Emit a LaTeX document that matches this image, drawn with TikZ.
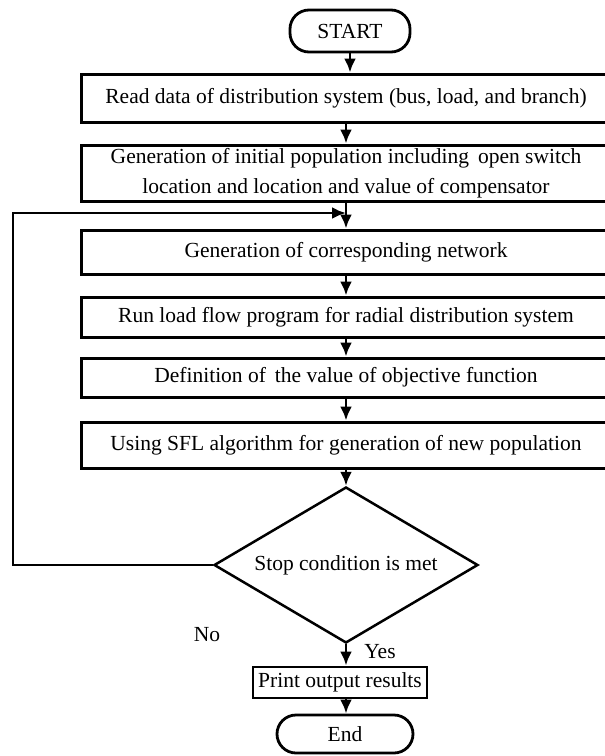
\documentclass[tikz,border=0pt]{standalone}
\usepackage{fontspec}
\setmainfont{Liberation Serif}
\usetikzlibrary{shapes.geometric,arrows.meta}
\begin{document}
\begin{tikzpicture}[x=1pt,y=-1pt,
    font=\fontsize{21.5}{30}\selectfont,
    box/.style={draw, line width=3pt, minimum width=530pt, align=center, inner sep=0pt},
    term/.style={draw, line width=2.8pt, rounded corners=19pt, inner sep=0pt},
    flow/.style={line width=2.8pt, -{Latex[length=14pt,width=12pt]}}]
    % Page size
    \useasboundingbox (0,0) rectangle (605,756);
    % Terminals
    \node[term, minimum width=120pt, minimum height=42pt] (start) at (350,31) {START};
    \node[term, minimum width=136pt, minimum height=38pt] (stop) at (345,734) {End};
    % Process boxes
    \node[box, minimum height=48pt] (read) at (346,98) {Read data of distribution system (bus, load, and branch)};
    \node[box, minimum height=56pt] (init) at (346,173) {Generation of initial population including\, open switch\\location and location and value of compensator};
    \node[box, minimum height=44pt] (net) at (346,252) {Generation of corresponding network};
    \node[box, minimum height=40pt] (lf) at (346,317) {Run load flow program for radial distribution system};
    \node[box, minimum height=39pt] (obj) at (346,377.5) {Definition of\, the value of objective function};
    \node[box, minimum height=46pt] (sfl) at (346,445) {Using SFL algorithm for generation of new population};
    % Decision
    \node[diamond, draw, line width=2.5pt, aspect=1.7, minimum width=264pt, minimum height=156pt, inner sep=0pt] (cond) at (346,565) {Stop condition is met};
    \node[draw, line width=2.8pt, minimum width=174pt, minimum height=31pt, inner sep=0pt] (out) at (340,682.5) {Print output results};
    % Connectors
    \draw[flow] (start) -- (start |- read.north);
    \draw[flow] (read.south -| init.north) -- (init.north);
    \draw[flow] (init) -- (net);
    \draw[flow] (net) -- (lf);
    \draw[flow] (lf) -- (obj);
    \draw[flow] (obj) -- (sfl);
    \draw[flow] (sfl) -- (cond);
    \draw[flow] (cond.south) -- (cond.south |- out.north);
    \draw[flow] (out.south -| cond.south) -- (cond.south |- stop.north);
    % Loop back
    \coordinate (back) at (13,213);
    \draw[flow] (cond.west) -| (back) -- (back -| init.south);
    % Labels
    \node (yes) at (380,652) {Yes};
    \node (no) at (207,635) {No};
\end{tikzpicture}
\end{document}
